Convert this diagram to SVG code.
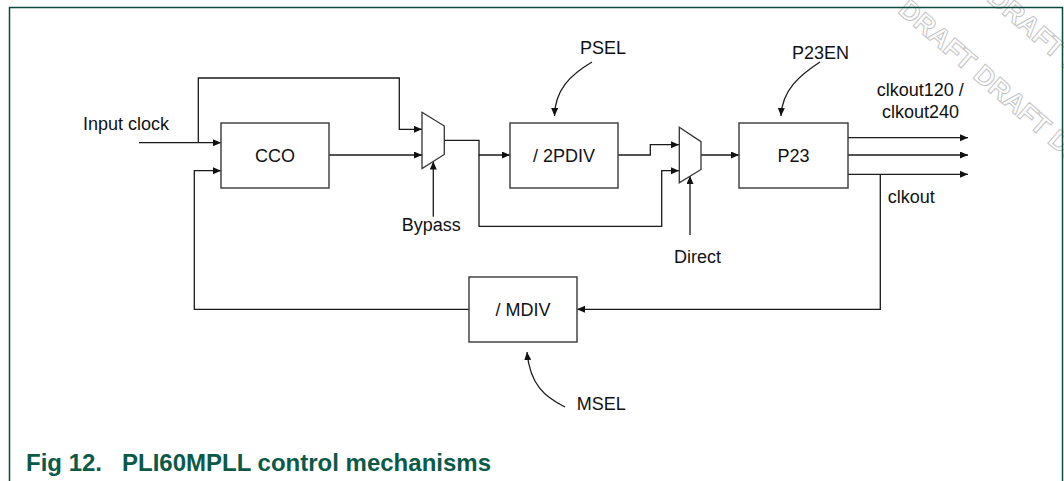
<svg xmlns="http://www.w3.org/2000/svg" width="1064" height="481" viewBox="0 0 1064 481">
<style>
.frame{fill:none;stroke:#0b4a3e;stroke-width:1.5}
.box{fill:#fff;stroke:#444;stroke-width:1.5}
.mux{fill:#fff;stroke:#333;stroke-width:1.3}
.ln{fill:none;stroke:#1a1a1a;stroke-width:1.3}
.lbl{font-family:"Liberation Sans",Arial,sans-serif;font-size:18px;fill:#111}
.mid{text-anchor:middle}
.cap{font-family:"Liberation Sans",Arial,sans-serif;font-size:24px;font-weight:bold;fill:#0b5a48}
.wm{font-family:"Liberation Sans",Arial,sans-serif;font-size:27px;font-weight:bold;fill:#fff;stroke:#c4c4c4;stroke-width:1}
</style>
<defs>
<marker id="ah" markerUnits="userSpaceOnUse" markerWidth="9" markerHeight="8" refX="8" refY="3.5" orient="auto">
<path d="M0,0 L8,3.5 L0,7 z" fill="#111"/>
</marker>
</defs>
<rect width="1064" height="481" fill="#fff"/>
<g id="watermark">
<text class="wm" transform="translate(897,12) rotate(41)">DRAFT DRAFT DR</text>
<text class="wm" transform="translate(986,0) rotate(41)">DRAFT DR</text>
</g>
<path class="frame" d="M9.5,481 V7.5 H1062.5 V481"/>
<g id="connectors">
<path class="ln" d="M139,142.7 H221" marker-end="url(#ah)"/>
<path class="ln" d="M198.3,142.7 V78 H399.3 V129.3 H422" marker-end="url(#ah)"/>
<path class="ln" d="M469,309.3 H194.3 V170.7 H221" marker-end="url(#ah)"/>
<path class="ln" d="M329,155 H422" marker-end="url(#ah)"/>
<path class="ln" d="M444,140.3 H479 V155 H510" marker-end="url(#ah)"/>
<path class="ln" d="M479,155 V226.3 H661.7 V170.7 H679" marker-end="url(#ah)"/>
<path class="ln" d="M618,155 H650.3 V144.7 H679" marker-end="url(#ah)"/>
<path class="ln" d="M701,155 H739" marker-end="url(#ah)"/>
<path class="ln" d="M433.3,216.7 V161.5" marker-end="url(#ah)"/>
<path class="ln" d="M690,235 V176" marker-end="url(#ah)"/>
<path class="ln" d="M848,137.7 H968" marker-end="url(#ah)"/>
<path class="ln" d="M848,155 H968" marker-end="url(#ah)"/>
<path class="ln" d="M848,174.3 H968" marker-end="url(#ah)"/>
<path class="ln" d="M880.3,174.3 V309.3 H577" marker-end="url(#ah)"/>
<path class="ln" d="M592,62 C570,75 555,90 554.5,116" marker-end="url(#ah)"/>
<path class="ln" d="M820,62 C800,75 782,90 781,116" marker-end="url(#ah)"/>
<path class="ln" d="M565,407 C545,397 530,385 527,352" marker-end="url(#ah)"/>
</g>
<g id="cco">
<rect class="box" x="221" y="123" width="108" height="65"/>
<text class="lbl mid" x="275" y="161.5">CCO</text>
</g>
<g id="pdiv">
<rect class="box" x="510" y="123" width="108" height="65"/>
<text class="lbl mid" x="564" y="161.5">/ 2PDIV</text>
</g>
<g id="p23">
<rect class="box" x="739" y="123" width="109" height="65"/>
<text class="lbl mid" x="793.5" y="161.5">P23</text>
</g>
<g id="mdiv">
<rect class="box" x="469" y="277" width="108" height="65"/>
<text class="lbl mid" x="523" y="316">/ MDIV</text>
</g>
<g id="mux1">
<polygon class="mux" points="422,112.3 444.3,126 444.3,154.5 422,168.5"/>
</g>
<g id="mux2">
<polygon class="mux" points="679.3,127.3 701,141.7 701,169.5 679.3,182.8"/>
</g>
<g id="labels">
<text class="lbl" x="83" y="130">Input clock</text>
<text class="lbl" x="580" y="54.3">PSEL</text>
<text class="lbl" x="792" y="59.3">P23EN</text>
<text class="lbl" x="876.7" y="96">clkout120 /</text>
<text class="lbl" x="882" y="118.3">clkout240</text>
<text class="lbl" x="887.7" y="202.7">clkout</text>
<text class="lbl" x="401.7" y="230.7">Bypass</text>
<text class="lbl" x="674" y="262.7">Direct</text>
<text class="lbl" x="576.7" y="410">MSEL</text>
</g>
<g id="caption">
<text class="cap" x="26" y="471">Fig 12.</text>
<text class="cap" x="122" y="471">PLI60MPLL control mechanisms</text>
</g>
</svg>
